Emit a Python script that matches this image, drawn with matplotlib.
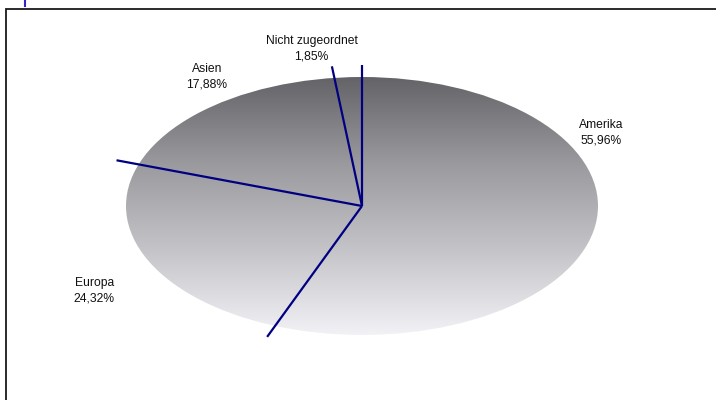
import numpy as np
import matplotlib.pyplot as plt
from matplotlib.patches import Circle, Rectangle
from matplotlib.lines import Line2D
from matplotlib.colors import LinearSegmentedColormap

# Daten
regionen = ["Amerika", "Europa", "Asien", "Nicht zugeordnet"]
anteile = [55.96, 24.32, 17.88, 1.85]

# Beschriftungspositionen (Achsenkoordinaten, Kreisradius = 1)
label_pos = [(1.013, 0.57), (-1.135, -0.66), (-0.657, 1.0), (-0.213, 1.22)]

W, H = 716, 400
fig = plt.figure(figsize=(W / 100, H / 100), dpi=100)

# Ellipse: Mitte (362, 206) px, Halbachsen 236 x 129 px
cx, cy, a, b = 362, 206, 236, 129
lim = 1.45
ax = fig.add_axes([(cx - lim * a) / W, (H - cy - lim * b) / H,
                   2 * lim * a / W, 2 * lim * b / H])

wedges, _ = ax.pie(anteile, startangle=90, counterclock=False,
                   wedgeprops=dict(facecolor="none", edgecolor="none"))
ax.set_aspect("auto")
ax.axis("off")

# Verlauf dunkel oben -> hell unten
cmap = LinearSegmentedColormap.from_list(
    "grau", ["#f2f2f6", "#c4c4c8", "#9a9a9e", "#646468"])
grad = np.linspace(0, 1, 256).reshape(-1, 1)
img = ax.imshow(grad, cmap=cmap, extent=(-1, 1, -1, 1), origin="lower",
                aspect="auto", interpolation="bilinear", zorder=1)
clip = Circle((0, 0), 1, transform=ax.transData)
img.set_clip_path(clip)
ax.set_xlim(-lim, lim)
ax.set_ylim(-lim, lim)

# Trennlinien der Segmente
grenzen = np.concatenate([[0], np.cumsum(anteile)[:-1]]) / sum(anteile) * 2 * np.pi
for t in grenzen:
    ax.plot([0, 1.1 * np.sin(t)], [0, 1.09 * np.cos(t)],
            color="#000080", lw=1.6, zorder=3, solid_capstyle="butt")

for name, wert, (lx, ly) in zip(regionen, anteile, label_pos):
    txt = f"{name}\n{wert:.2f}%".replace(".", ",")
    ax.text(lx, ly, txt, ha="center", va="center", fontsize=8.7,
            family="Liberation Sans", color="#111111", linespacing=1.4,
            zorder=4)

# Rahmen (nur oben und links sichtbar)
fig.add_artist(Rectangle((6 / W, -0.1), 2, 1 - 9 / H + 0.1,
                         transform=fig.transFigure, fill=False,
                         edgecolor="#1a1a1a", lw=1.3))
fig.add_artist(Line2D([25 / W, 25 / W], [1, 1 - 6 / H],
                      transform=fig.transFigure, color="#2a2ac0", lw=1.5))

fig.savefig("out.png", dpi=100)
